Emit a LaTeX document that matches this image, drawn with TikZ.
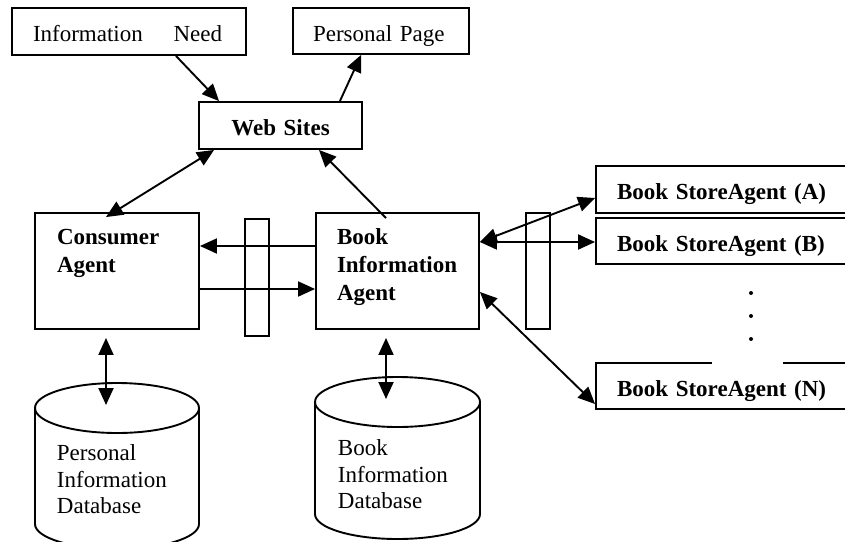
\documentclass[tikz,border=0pt]{standalone}
\usepackage{fontspec}
\setmainfont{Liberation Serif}
\usetikzlibrary{positioning,arrows.meta}

\tikzset{
  plain/.style={font=\fontsize{23pt}{28pt}\selectfont},
  boldtext/.style={font=\fontsize{23pt}{28pt}\selectfont\bfseries},
  dbtext/.style={font=\fontsize{23pt}{26.5pt}\selectfont},
  box/.style={draw, inner xsep=21pt, inner ysep=0pt, text height=20pt, text depth=0pt, align=left},
  bar/.style={draw, minimum width=24pt, inner sep=0pt},
  lbl/.style={inner sep=0pt, align=left},
  link/.style={-{Triangle[length=17pt,width=15pt]}},
  dlink/.style={{Triangle[length=17pt,width=15pt]}-{Triangle[length=17pt,width=15pt]}},
}

\begin{document}
\begin{tikzpicture}[x=1pt,y=-1pt,line width=1.9pt]
\useasboundingbox (0,0) rectangle (845,541);
\clip (0,0) rectangle (845,541);
%
\node[box, plain, text width=192pt, minimum height=47pt] (need) at (129,31.5) {Information~~~~Need};
\node[box, plain, inner xsep=20pt, text width=136pt, minimum height=46pt] (page) at (381,31) {Personal Page};
\node[box, boldtext, inner xsep=10pt, text width=143pt, minimum height=47pt, align=center] (web) at (280.5,125.5) {Web Sites};
%
\node[box, minimum width=164pt, minimum height=116pt] (cons) at (117,271) {};
\node[bar, minimum height=117pt] (bar1) at (257,277.5) {};
\node[box, minimum width=163pt, minimum height=116pt] (info) at (397.5,271) {};
\node[bar, minimum height=116pt] (bar2) at (538,271) {};
\node[lbl, boldtext, below right=16pt and 22pt of cons.north west] (conslbl) {Consumer\\Agent};
\node[lbl, boldtext, below right=16pt and 21pt of info.north west] (infolbl) {Book\\Information\\Agent};
%
\node[box, boldtext, text width=228pt, minimum height=47pt] (storeA) at (731,189.5) {Book StoreAgent (A)};
\node[box, boldtext, text width=228pt, minimum height=46pt] (storeB) at (731,241) {Book StoreAgent (B)};
\node[box, boldtext, text width=228pt, minimum height=46pt] (storeN) at (731,386) {Book StoreAgent (N)};
\fill[white] (712,360) rectangle (783,366);
\foreach \y in {293,316,339} \fill (751,\y) circle (2pt);
%
% databases
\draw (35,408) -- (35,524) arc[start angle=180, end angle=360, x radius=82pt, y radius=25pt] -- (199,408);
\draw (117,408) ellipse[x radius=82pt, y radius=25pt];
\coordinate (pdb) at (117,408);
\draw (315,402) -- (315,514) arc[start angle=180, end angle=360, x radius=82.5pt, y radius=25pt] -- (480,402);
\draw (397.5,402) ellipse[x radius=82.5pt, y radius=25pt];
\coordinate (bdb) at (397.5,402);
\node[lbl, dbtext, anchor=north west] (pdblbl) at (56,444) {Personal\\Information\\Database};
\node[lbl, dbtext, anchor=north west] (bdblbl) at (337,439) {Book\\Information\\Database};
%
\draw[link] ([xshift=47pt]need.south) -- ([xshift=21pt]web.north west);
\draw[link] ([xshift=-23pt]web.north east) -- ([xshift=69pt]page.south west);
\draw[dlink] ([xshift=-11pt,yshift=-5pt]cons.north) -- ([xshift=16pt]web.south west);
\draw[link] ([xshift=-11.5pt,yshift=-6pt]info.north) -- ([xshift=-44pt]web.south east);
\draw[link] ([yshift=25pt]info.west) -- ([yshift=25pt]cons.east);
\draw[link] ([yshift=-18pt]cons.east) -- ([yshift=-18pt]info.west);
\draw[dlink] ([yshift=29pt]info.east) -- ([yshift=-8.5pt]storeA.west);
\draw[dlink] ([yshift=29pt]info.east) -- ([yshift=29pt]info.east -| storeB.west);
\draw[dlink] ([yshift=-21pt]info.east) -- ([yshift=-18pt]storeN.west);
\draw[dlink] ([xshift=-11pt,yshift=-8pt]cons.south) -- ([xshift=-11pt,yshift=3pt]pdb);
\draw[dlink] ([xshift=-11.5pt,yshift=-8pt]info.south) -- ([xshift=-11.5pt,yshift=3pt]bdb);
\end{tikzpicture}
\end{document}
